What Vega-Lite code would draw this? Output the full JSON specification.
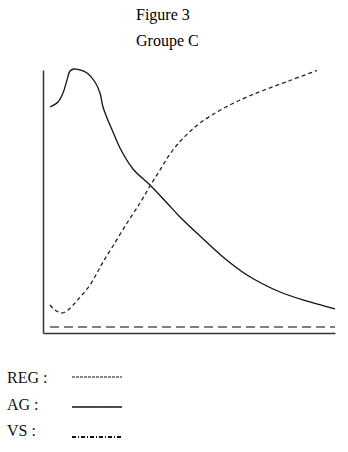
{
  "$schema": "https://vega.github.io/schema/vega-lite/v6.json",
  "width": 292,
  "height": 263,
  "autosize": {"type": "none"},
  "padding": {"left": 43, "top": 70, "right": 13, "bottom": 119},
  "background": "white",
  "config": {"view": {"stroke": null}, "font": "Liberation Serif"},
  "title": {
    "text": "Figure 3",
    "subtitle": "Groupe C",
    "anchor": "start",
    "frame": "group",
    "dx": 93,
    "offset": 17,
    "font": "Liberation Serif",
    "fontSize": 16,
    "fontWeight": "normal",
    "color": "black",
    "subtitleFont": "Liberation Serif",
    "subtitleFontSize": 16,
    "subtitleColor": "black",
    "subtitlePadding": 10
  },
  "datasets": {
    "courbes": [
      {"serie": "AG", "x": 2.40, "y": 85.93},
      {"serie": "AG", "x": 5.14, "y": 87.83},
      {"serie": "AG", "x": 6.85, "y": 91.25},
      {"serie": "AG", "x": 8.22, "y": 96.20},
      {"serie": "AG", "x": 9.25, "y": 99.62},
      {"serie": "AG", "x": 10.62, "y": 100.38},
      {"serie": "AG", "x": 12.33, "y": 100.1},
      {"serie": "AG", "x": 15.07, "y": 98.86},
      {"serie": "AG", "x": 17.81, "y": 95.44},
      {"serie": "AG", "x": 19.52, "y": 91.25},
      {"serie": "AG", "x": 20.55, "y": 85.93},
      {"serie": "AG", "x": 21.92, "y": 81.75},
      {"serie": "AG", "x": 23.97, "y": 76.43},
      {"serie": "AG", "x": 26.37, "y": 70.34},
      {"serie": "AG", "x": 30.82, "y": 62.36},
      {"serie": "AG", "x": 36.64, "y": 56.27},
      {"serie": "AG", "x": 42.47, "y": 49.43},
      {"serie": "AG", "x": 46.92, "y": 44.11},
      {"serie": "AG", "x": 53.77, "y": 36.88},
      {"serie": "AG", "x": 61.64, "y": 28.90},
      {"serie": "AG", "x": 69.86, "y": 22.05},
      {"serie": "AG", "x": 81.16, "y": 15.59},
      {"serie": "AG", "x": 91.44, "y": 11.79},
      {"serie": "AG", "x": 100.0, "y": 9.13},
      {"serie": "REG", "x": 2.40, "y": 10.65},
      {"serie": "REG", "x": 4.11, "y": 8.75},
      {"serie": "REG", "x": 6.51, "y": 7.60},
      {"serie": "REG", "x": 8.56, "y": 8.75},
      {"serie": "REG", "x": 10.96, "y": 11.41},
      {"serie": "REG", "x": 13.36, "y": 14.45},
      {"serie": "REG", "x": 16.10, "y": 18.25},
      {"serie": "REG", "x": 18.49, "y": 22.81},
      {"serie": "REG", "x": 20.55, "y": 27.00},
      {"serie": "REG", "x": 23.97, "y": 33.08},
      {"serie": "REG", "x": 28.77, "y": 41.83},
      {"serie": "REG", "x": 33.22, "y": 49.43},
      {"serie": "REG", "x": 36.64, "y": 55.89},
      {"serie": "REG", "x": 40.07, "y": 61.98},
      {"serie": "REG", "x": 43.49, "y": 68.06},
      {"serie": "REG", "x": 46.92, "y": 72.81},
      {"serie": "REG", "x": 50.34, "y": 76.62},
      {"serie": "REG", "x": 53.77, "y": 79.85},
      {"serie": "REG", "x": 57.88, "y": 82.89},
      {"serie": "REG", "x": 62.33, "y": 85.74},
      {"serie": "REG", "x": 66.44, "y": 88.02},
      {"serie": "REG", "x": 70.21, "y": 89.92},
      {"serie": "REG", "x": 75.34, "y": 92.21},
      {"serie": "REG", "x": 84.59, "y": 96.01},
      {"serie": "REG", "x": 93.84, "y": 99.81},
      {"serie": "VS", "x": 2.40, "y": 2.28},
      {"serie": "VS", "x": 100.0, "y": 2.28}
    ],
    "legende": [
      {"serie": "REG", "label": "REG :"},
      {"serie": "AG", "label": "AG :"},
      {"serie": "VS", "label": "VS :"}
    ]
  },
  "layer": [
    {
      "data": {"name": "courbes"},
      "encoding": {
        "x": {
          "field": "x", "type": "quantitative",
          "scale": {"domain": [0, 100], "nice": false, "zero": false},
          "axis": {"title": null, "labels": false, "ticks": false, "grid": false, "domainColor": "#333", "domainWidth": 1.5}
        },
        "y": {
          "field": "y", "type": "quantitative",
          "scale": {"domain": [0, 100], "nice": false, "zero": false},
          "axis": {"title": null, "labels": false, "ticks": false, "grid": false, "domainColor": "#333", "domainWidth": 1.5}
        }
      },
      "layer": [
        {
          "transform": [{"filter": "datum.serie === 'AG'"}],
          "mark": {"type": "line", "interpolate": "catmull-rom", "color": "#111", "strokeWidth": 1.3, "clip": false}
        },
        {
          "transform": [{"filter": "datum.serie === 'REG'"}],
          "mark": {"type": "line", "interpolate": "catmull-rom", "color": "#222", "strokeWidth": 1.3, "strokeDash": [4, 3], "clip": false}
        },
        {
          "transform": [{"filter": "datum.serie === 'VS'"}],
          "mark": {"type": "line", "color": "#555", "strokeWidth": 1.6, "strokeDash": [9, 5], "clip": false}
        }
      ]
    },
    {
      "data": {"name": "legende"},
      "mark": {"type": "text", "align": "left", "baseline": "alphabetic", "font": "Liberation Serif", "fontSize": 16, "color": "#111", "clip": false},
      "encoding": {
        "x": {"datum": -12.33, "type": "quantitative"},
        "y": {
          "field": "serie", "type": "ordinal",
          "scale": {"type": "point", "domain": ["REG", "AG", "VS"], "range": [313, 366], "padding": 0},
          "axis": null
        },
        "text": {"field": "label"}
      }
    },
    {
      "data": {"name": "legende"},
      "mark": {"type": "rule", "color": "#111", "clip": false},
      "encoding": {
        "x": {"datum": 9.93, "type": "quantitative"},
        "x2": {"datum": 27.05},
        "y": {
          "field": "serie", "type": "ordinal",
          "scale": {"type": "point", "domain": ["REG", "AG", "VS"], "range": [307, 367], "padding": 0},
          "axis": null
        },
        "strokeDash": {
          "field": "serie", "type": "nominal",
          "scale": {"domain": ["REG", "AG", "VS"], "range": [[3, 1], [1, 0], [4, 2, 1, 2]]},
          "legend": null
        },
        "strokeWidth": {
          "field": "serie", "type": "ordinal",
          "scale": {"domain": ["REG", "AG", "VS"], "range": [1, 2, 1]},
          "legend": null
        }
      }
    }
  ],
  "resolve": {"scale": {"y": "independent"}}
}
